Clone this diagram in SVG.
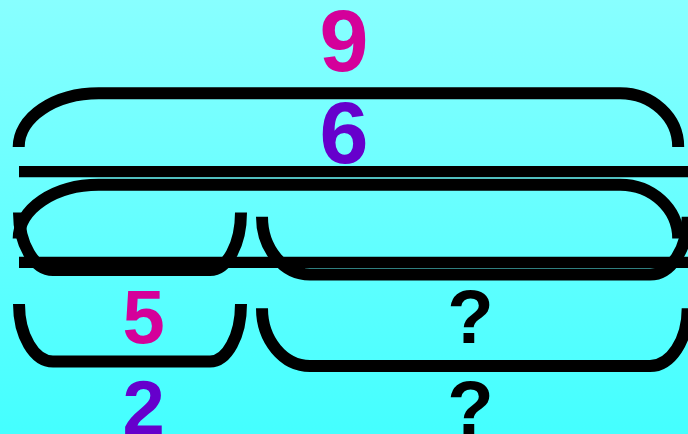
<svg xmlns="http://www.w3.org/2000/svg" width="688" height="434" viewBox="0 0 688 434">
  <defs>
    <linearGradient id="bg" x1="0" y1="0" x2="0" y2="1">
      <stop offset="0" stop-color="#88ffff"/>
      <stop offset="1" stop-color="#44ffff"/>
    </linearGradient>
  </defs>
  <style>
    .brace { fill: none; stroke: #000; stroke-width: 12; stroke-linecap: butt; stroke-linejoin: round; }
    .bar { fill: none; stroke: #000; stroke-width: 11.3; stroke-linecap: butt; }
    .lbl { font-family: "Liberation Sans", Arial, sans-serif; font-weight: bold; text-anchor: middle; }
    .big { font-size: 88px; }
    .small { font-size: 76px; }
    .mag { fill: #d4009a; }
    .pur { fill: #6600cc; }
    .blk { fill: #000; }
  </style>
  <rect x="0" y="0" width="688" height="434" fill="url(#bg)"/>

  <g id="connectors">
    <path id="bar1" class="bar" d="M19,171.7 H692"/>
    <path id="bar2" class="bar" d="M19,262.3 H692"/>
  </g>

  <g id="panel1">
    <g id="total-brace-1">
      <path class="brace" d="M18.7,147 A80,53.7 0 0 1 98.7,93.3 H620 A58,53.7 0 0 1 678.2,147"/>
      <text class="lbl big mag" x="344" y="71">9</text>
    </g>
    <g id="part-a-brace-1">
      <path class="brace" d="M19,212.5 A34,57.5 0 0 0 53,270 H210 A31,57.5 0 0 0 241,212.5"/>
      <text class="lbl small mag" x="143.7" y="342.7">5</text>
    </g>
    <g id="part-b-brace-1">
      <path class="brace" d="M262,216.8 A48,57.7 0 0 0 310,274.5 H650 A37.7,57.7 0 0 0 687.7,216.8"/>
      <text class="lbl small blk" x="470.5" y="342.5">?</text>
    </g>
  </g>

  <g id="panel2">
    <g id="total-brace-2">
      <path class="brace" d="M18.7,238.5 A80,53.7 0 0 1 98.7,184.8 H620 A58,53.7 0 0 1 678.2,238.5"/>
      <text class="lbl big pur" x="344" y="162.5">6</text>
    </g>
    <g id="part-a-brace-2">
      <path class="brace" d="M19,304 A34,57.5 0 0 0 53,361.5 H210 A31,57.5 0 0 0 241,304"/>
      <text class="lbl small pur" x="143.7" y="434.3">2</text>
    </g>
    <g id="part-b-brace-2">
      <path class="brace" d="M262,308.3 A48,57.7 0 0 0 310,366 H650 A37.7,57.7 0 0 0 687.7,308.3"/>
      <text class="lbl small blk" x="470.5" y="434">?</text>
    </g>
  </g>
</svg>
